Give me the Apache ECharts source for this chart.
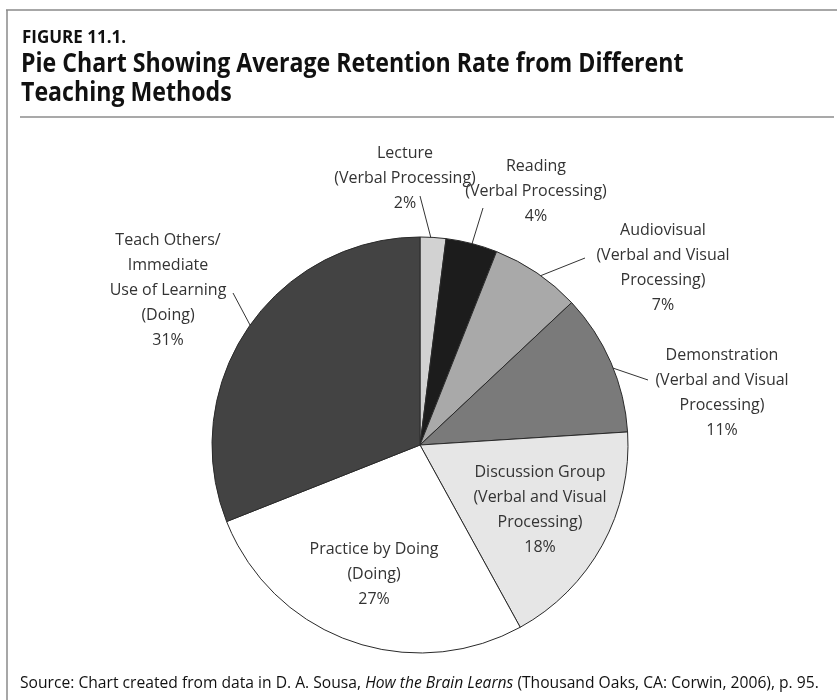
<!DOCTYPE html>
<html>
<head>
<meta charset="utf-8">
<script src="https://cdn.jsdelivr.net/npm/echarts@6/dist/echarts.min.js"></script>
<style>html,body{margin:0;padding:0;background:#fff}#c{width:837px;height:700px}</style>
</head>
<body>
<div id="c"></div>
<script>
// ---- data ----
var methods = ['Lecture', 'Reading', 'Audiovisual', 'Demonstration', 'Discussion Group', 'Practice by Doing', 'Teach Others/\nImmediate\nUse of Learning'];
var processing = ['(Verbal Processing)', '(Verbal Processing)', '(Verbal and Visual\nProcessing)', '(Verbal and Visual\nProcessing)', '(Verbal and Visual\nProcessing)', '(Doing)', '(Doing)'];
var retention = [2, 4, 7, 11, 18, 27, 31];
var sliceColors = ['#d2d2d2', '#1c1c1c', '#a9a9a9', '#7a7a7a', '#e6e6e6', '#ffffff', '#434343'];

// ---- layout (pixels) ----
var CENTER = [420, 445], RADIUS = 208;
var labelPos = [[405, 178], [536, 191], [663, 268], [722, 393], [540, 510], [374, 574], [168, 290]];
var insideLabel = [false, false, false, false, true, true, false];
// where each leader line ends next to its label
var lineEnd = [[420, 196], [483, 208], [585, 258], [648, 380], null, null, [233, 293]];

var FONT = '"Open Sans", "Noto Sans", sans-serif';
var chart = echarts.init(document.getElementById('c'));

var total = retention.reduce(function (a, b) { return a + b; }, 0);
var cum = [];
retention.reduce(function (acc, v, i) { cum[i] = acc + v / 2; return acc + v; }, 0);

var pieData = methods.map(function (m, i) {
  return {
    name: m,
    value: retention[i],
    itemStyle: { color: sliceColors[i] },
    labelLine: { show: !insideLabel[i] }
  };
});

chart.setOption({
  animation: false,
  backgroundColor: '#ffffff',
  graphic: [
    { type: 'line', shape: { x1: 6, y1: 10, x2: 837, y2: 10 }, style: { stroke: '#8a8a8a', lineWidth: 1.5 } },
    { type: 'line', shape: { x1: 7, y1: 10, x2: 7, y2: 700 }, style: { stroke: '#8a8a8a', lineWidth: 1.5 } },
    { type: 'text', x: 22, y: 38, style: { text: 'FIGURE 11.1.', font: 'bold 17px ' + FONT, fill: '#111', textVerticalAlign: 'middle' } },
    { type: 'text', x: 21, y: 65, scaleX: 0.89, style: { text: 'Pie Chart Showing Average Retention Rate from Different', font: 'bold 26px ' + FONT, fill: '#111', textVerticalAlign: 'middle' } },
    { type: 'text', x: 21, y: 94, scaleX: 0.89, style: { text: 'Teaching Methods', font: 'bold 26px ' + FONT, fill: '#111', textVerticalAlign: 'middle' } },
    { type: 'line', shape: { x1: 20, y1: 117, x2: 834, y2: 117 }, style: { stroke: '#555', lineWidth: 1.2 } },
    { type: 'text', x: 20, y: 683, scaleX: 0.92, style: {
        text: '{n|Source: Chart created from data in D. A. Sousa, }{i|How the Brain Learns}{n| (Thousand Oaks, CA: Corwin, 2006), p. 95.}',
        textVerticalAlign: 'middle',
        rich: {
          n: { font: '17px ' + FONT, fill: '#111' },
          i: { font: 'italic 17px ' + FONT, fill: '#111' }
        }
      } }
  ],
  series: [{
    type: 'pie',
    center: CENTER,
    radius: RADIUS,
    startAngle: 90,
    clockwise: true,
    data: pieData,
    itemStyle: { borderColor: '#2a2a2a', borderWidth: 1 },
    label: {
      show: true,
      position: 'outside',
      color: '#333',
      fontFamily: FONT,
      fontSize: 16,
      lineHeight: 25,
      align: 'center',
      formatter: function (p) {
        return methods[p.dataIndex] + '\n' + processing[p.dataIndex] + '\n' + retention[p.dataIndex] + '%';
      }
    },
    labelLine: { show: true, lineStyle: { color: '#333', width: 1 }, length: 10, length2: 0 },
    labelLayout: function (p) {
      var i = p.dataIndex;
      var pos = labelPos[i];
      var out = { x: pos[0], y: pos[1], align: 'center', verticalAlign: 'middle' };
      if (lineEnd[i]) {
        var ang = (cum[i] / total) * 2 * Math.PI; // clockwise from top
        var r = RADIUS - 7;
        var start = [CENTER[0] + r * Math.sin(ang), CENTER[1] - r * Math.cos(ang)];
        out.labelLinePoints = [start, lineEnd[i], lineEnd[i]];
      }
      return out;
    }
  }]
});
</script>
</body>
</html>
